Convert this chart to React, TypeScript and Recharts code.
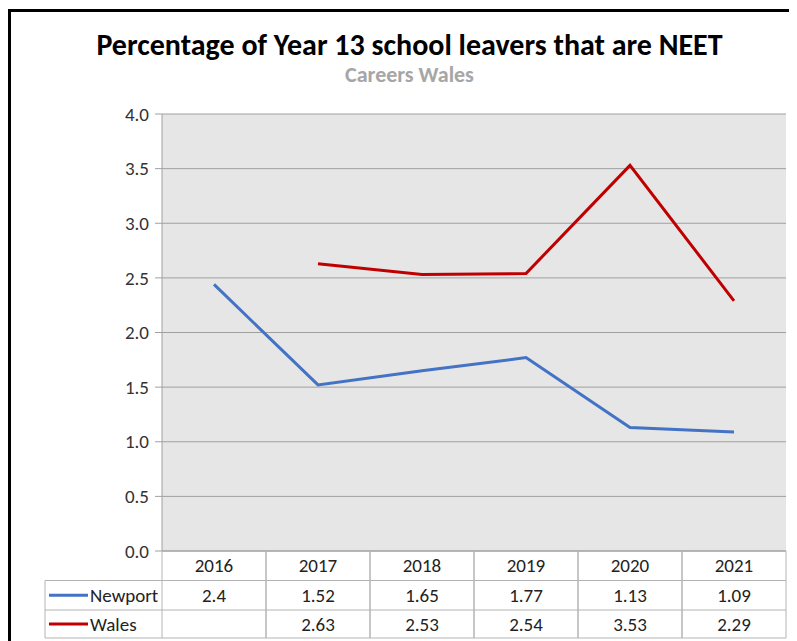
import React from 'react';
import {
  LineChart,
  Line,
  XAxis,
  YAxis,
  CartesianGrid,
} from 'recharts';

const years = ['2016', '2017', '2018', '2019', '2020', '2021'];
const newport = [2.44, 1.52, 1.65, 1.77, 1.13, 1.09];
const wales = [null, 2.63, 2.53, 2.54, 3.53, 2.29];
// text shown in the data table under the axis
const newportText = ['2.4', '1.52', '1.65', '1.77', '1.13', '1.09'];
const walesText = ['', '2.63', '2.53', '2.54', '3.53', '2.29'];
const yTicks = [0, 0.5, 1, 1.5, 2, 2.5, 3, 3.5, 4];

const FONT = "Carlito, Lato, sans-serif";
const NEWPORT_COLOR = '#4472c4';
const WALES_COLOR = '#c00000';
const TABLE_LINE = '#b4b4b4';

const CHART_W = 780;
const CHART_H = 629;
const MARGIN = { top: 102, right: 5, left: 91, bottom: 2 };
const Y_AXIS_W = 60;
const PLOT_W = CHART_W - MARGIN.left - Y_AXIS_W - MARGIN.right;
const HALF = PLOT_W / years.length / 2;
const LEGEND_W = 117;
const ROW1 = 29.5;
const ROW2 = 59;
const ROW3 = 87;

const data = years.map((year, i) => ({
  year,
  newport: newport[i],
  wales: wales[i],
}));

function TableTick(props: any) {
  const { x, y, index, payload } = props;
  const left = x - HALF;
  const right = x + HALF;
  const textProps = {
    fontFamily: FONT,
    fontSize: 19,
    fill: '#222',
    textAnchor: 'middle' as const,
    dominantBaseline: 'central' as const,
  };
  return (
    <g>
      <line x1={left} y1={y} x2={left} y2={y + ROW3} stroke={TABLE_LINE} />
      <line x1={right} y1={y} x2={right} y2={y + ROW3} stroke={TABLE_LINE} />
      <line x1={left} y1={y + ROW1} x2={right} y2={y + ROW1} stroke={TABLE_LINE} />
      <line x1={left} y1={y + ROW2} x2={right} y2={y + ROW2} stroke={TABLE_LINE} />
      <line x1={left} y1={y + ROW3} x2={right} y2={y + ROW3} stroke={TABLE_LINE} />
      <text x={x} y={y + ROW1 / 2} {...textProps}>{payload.value}</text>
      <text x={x} y={y + (ROW1 + ROW2) / 2} {...textProps}>{newportText[index]}</text>
      <text x={x} y={y + (ROW2 + ROW3) / 2} {...textProps}>{walesText[index]}</text>
      {index === 0 && (
        <g>
          <line x1={left - LEGEND_W} y1={y + ROW1} x2={left - LEGEND_W} y2={y + ROW3} stroke={TABLE_LINE} />
          <line x1={left - LEGEND_W} y1={y + ROW1} x2={left} y2={y + ROW1} stroke={TABLE_LINE} />
          <line x1={left - LEGEND_W} y1={y + ROW2} x2={left} y2={y + ROW2} stroke={TABLE_LINE} />
          <line x1={left - LEGEND_W} y1={y + ROW3} x2={left} y2={y + ROW3} stroke={TABLE_LINE} />
          <line x1={left - LEGEND_W + 4} y1={y + (ROW1 + ROW2) / 2} x2={left - LEGEND_W + 43} y2={y + (ROW1 + ROW2) / 2} stroke={NEWPORT_COLOR} strokeWidth={3} />
          <line x1={left - LEGEND_W + 4} y1={y + (ROW2 + ROW3) / 2} x2={left - LEGEND_W + 43} y2={y + (ROW2 + ROW3) / 2} stroke={WALES_COLOR} strokeWidth={3} />
          <text x={left - LEGEND_W + 45} y={y + (ROW1 + ROW2) / 2} {...textProps} textAnchor="start">Newport</text>
          <text x={left - LEGEND_W + 45} y={y + (ROW2 + ROW3) / 2} {...textProps} textAnchor="start">Wales</text>
        </g>
      )}
    </g>
  );
}

export default function App() {
  return (
    <div style={{ width: 789, height: 633, overflow: 'hidden', position: 'relative' }}>
      <div
        style={{
          position: 'absolute',
          left: 0,
          top: 1,
          width: 830,
          height: 700,
          borderTop: '3px solid #000',
          borderLeft: '3px solid #000',
          background: '#fff',
        }}
      >
        <div
          style={{
            position: 'absolute',
            left: 0,
            top: 15,
            width: 797,
            textAlign: 'center',
            fontFamily: FONT,
            fontWeight: 'bold',
            fontSize: 30,
            lineHeight: '36px',
            color: '#000',
          }}
        >
          Percentage of Year 13 school leavers that are NEET
        </div>
        <div
          style={{
            position: 'absolute',
            left: 0,
            top: 50,
            width: 797,
            textAlign: 'center',
            fontFamily: FONT,
            fontWeight: 'bold',
            fontSize: 22,
            lineHeight: '26px',
            color: '#a6a6a6',
          }}
        >
          Careers Wales
        </div>
        <div style={{ position: 'absolute', left: 0, top: 0 }}>
          <LineChart width={CHART_W} height={CHART_H} data={data} margin={MARGIN}>
            <CartesianGrid vertical={false} stroke="#a0a0a0" fill="#e6e6e6" fillOpacity={1} />
            <XAxis
              dataKey="year"
              padding={{ left: HALF, right: HALF }}
              axisLine={{ stroke: '#a0a0a0' }}
              tickLine={false}
              tickSize={0}
              tickMargin={0}
              height={ROW3 + 1}
              interval={0}
              tick={<TableTick />}
            />
            <YAxis
              width={Y_AXIS_W}
              domain={[0, 4]}
              ticks={yTicks}
              interval={0}
              axisLine={{ stroke: '#a0a0a0' }}
              tickLine={{ stroke: '#a0a0a0' }}
              tickSize={7}
              tickMargin={6}
              tickFormatter={(v: number) => v.toFixed(1)}
              tick={{ fontFamily: FONT, fontSize: 19, fill: '#333' }}
            />
            <Line
              dataKey="newport"
              stroke={NEWPORT_COLOR}
              strokeWidth={3}
              dot={false}
              isAnimationActive={false}
            />
            <Line
              dataKey="wales"
              stroke={WALES_COLOR}
              strokeWidth={3}
              dot={false}
              connectNulls={false}
              isAnimationActive={false}
            />
          </LineChart>
        </div>
      </div>
    </div>
  );
}
